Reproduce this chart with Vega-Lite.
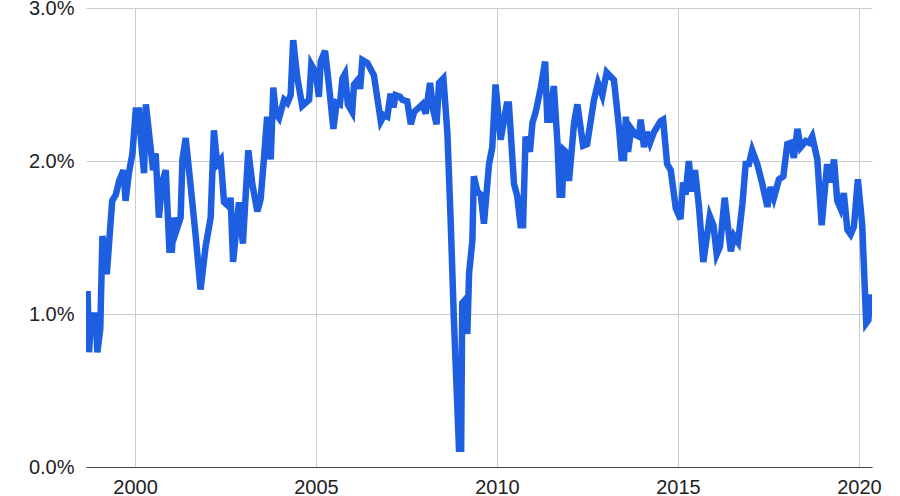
{
  "$schema": "https://vega.github.io/schema/vega-lite/v6.json",
  "width": 786,
  "height": 459,
  "autosize": "none",
  "padding": {"left": 86, "top": 8, "right": 28, "bottom": 29},
  "background": "white",
  "config": {
    "view": {"stroke": null},
    "font": "Liberation Sans"
  },
  "data": {
    "values": [
      {"year":1998.69,"rate":1.15},{"year":1998.73,"rate":0.75},{"year":1998.79,"rate":0.99},{"year":1998.91,"rate":0.99},{"year":1998.96,"rate":0.75},{"year":1999.04,"rate":0.90},{"year":1999.10,"rate":1.51},{"year":1999.22,"rate":1.26},{"year":1999.37,"rate":1.74},{"year":1999.47,"rate":1.78},{"year":1999.56,"rate":1.87},{"year":1999.68,"rate":1.94},{"year":1999.74,"rate":1.74},{"year":1999.83,"rate":1.92},{"year":1999.93,"rate":2.05},{"year":2000.02,"rate":2.33},{"year":2000.11,"rate":2.33},{"year":2000.17,"rate":2.12},{"year":2000.25,"rate":1.92},{"year":2000.30,"rate":2.37},{"year":2000.43,"rate":2.09},{"year":2000.50,"rate":1.94},{"year":2000.57,"rate":2.05},{"year":2000.66,"rate":1.63},{"year":2000.75,"rate":1.86},{"year":2000.85,"rate":1.94},{"year":2000.95,"rate":1.42},{"year":2001.02,"rate":1.42},{"year":2001.08,"rate":1.63},{"year":2001.15,"rate":1.55},{"year":2001.26,"rate":1.63},{"year":2001.31,"rate":2.01},{"year":2001.40,"rate":2.15},{"year":2001.54,"rate":1.83},{"year":2001.68,"rate":1.50},{"year":2001.81,"rate":1.16},{"year":2001.95,"rate":1.44},{"year":2002.09,"rate":1.63},{"year":2002.18,"rate":2.20},{"year":2002.27,"rate":1.98},{"year":2002.37,"rate":2.01},{"year":2002.46,"rate":1.73},{"year":2002.60,"rate":1.70},{"year":2002.64,"rate":1.76},{"year":2002.71,"rate":1.34},{"year":2002.87,"rate":1.73},{"year":2002.98,"rate":1.46},{"year":2003.13,"rate":2.07},{"year":2003.24,"rate":1.85},{"year":2003.38,"rate":1.67},{"year":2003.47,"rate":1.75},{"year":2003.56,"rate":2.01},{"year":2003.65,"rate":2.29},{"year":2003.75,"rate":2.01},{"year":2003.82,"rate":2.48},{"year":2003.89,"rate":2.31},{"year":2003.98,"rate":2.28},{"year":2004.12,"rate":2.40},{"year":2004.21,"rate":2.38},{"year":2004.30,"rate":2.43},{"year":2004.37,"rate":2.79},{"year":2004.48,"rate":2.55},{"year":2004.62,"rate":2.36},{"year":2004.81,"rate":2.40},{"year":2004.87,"rate":2.63},{"year":2004.99,"rate":2.58},{"year":2005.08,"rate":2.42},{"year":2005.13,"rate":2.65},{"year":2005.25,"rate":2.72},{"year":2005.36,"rate":2.49},{"year":2005.48,"rate":2.21},{"year":2005.57,"rate":2.38},{"year":2005.66,"rate":2.37},{"year":2005.73,"rate":2.54},{"year":2005.80,"rate":2.57},{"year":2005.88,"rate":2.37},{"year":2006.00,"rate":2.32},{"year":2006.05,"rate":2.50},{"year":2006.19,"rate":2.54},{"year":2006.22,"rate":2.47},{"year":2006.28,"rate":2.66},{"year":2006.42,"rate":2.64},{"year":2006.60,"rate":2.56},{"year":2006.79,"rate":2.26},{"year":2006.88,"rate":2.30},{"year":2006.97,"rate":2.29},{"year":2007.06,"rate":2.44},{"year":2007.14,"rate":2.35},{"year":2007.20,"rate":2.43},{"year":2007.32,"rate":2.42},{"year":2007.38,"rate":2.40},{"year":2007.52,"rate":2.39},{"year":2007.62,"rate":2.24},{"year":2007.71,"rate":2.32},{"year":2007.85,"rate":2.35},{"year":2007.94,"rate":2.37},{"year":2008.03,"rate":2.31},{"year":2008.15,"rate":2.51},{"year":2008.24,"rate":2.33},{"year":2008.33,"rate":2.24},{"year":2008.40,"rate":2.51},{"year":2008.52,"rate":2.54},{"year":2008.63,"rate":2.18},{"year":2008.72,"rate":1.61},{"year":2008.81,"rate":0.96},{"year":2008.90,"rate":0.42},{"year":2008.95,"rate":0.12},{"year":2009.01,"rate":0.12},{"year":2009.04,"rate":1.07},{"year":2009.11,"rate":1.09},{"year":2009.18,"rate":0.87},{"year":2009.23,"rate":1.27},{"year":2009.32,"rate":1.48},{"year":2009.36,"rate":1.90},{"year":2009.46,"rate":1.80},{"year":2009.55,"rate":1.78},{"year":2009.64,"rate":1.59},{"year":2009.78,"rate":1.98},{"year":2009.87,"rate":2.09},{"year":2009.96,"rate":2.50},{"year":2010.10,"rate":2.14},{"year":2010.27,"rate":2.37},{"year":2010.33,"rate":2.37},{"year":2010.47,"rate":1.85},{"year":2010.56,"rate":1.77},{"year":2010.65,"rate":1.58},{"year":2010.72,"rate":1.58},{"year":2010.79,"rate":2.16},{"year":2010.91,"rate":2.06},{"year":2010.98,"rate":2.25},{"year":2011.07,"rate":2.32},{"year":2011.21,"rate":2.48},{"year":2011.33,"rate":2.65},{"year":2011.39,"rate":2.27},{"year":2011.46,"rate":2.27},{"year":2011.57,"rate":2.49},{"year":2011.67,"rate":2.12},{"year":2011.73,"rate":1.78},{"year":2011.80,"rate":1.78},{"year":2011.85,"rate":2.07},{"year":2011.94,"rate":2.05},{"year":2011.99,"rate":1.87},{"year":2012.13,"rate":2.25},{"year":2012.22,"rate":2.37},{"year":2012.38,"rate":2.10},{"year":2012.49,"rate":2.11},{"year":2012.68,"rate":2.40},{"year":2012.79,"rate":2.51},{"year":2012.91,"rate":2.43},{"year":2013.03,"rate":2.58},{"year":2013.23,"rate":2.53},{"year":2013.37,"rate":2.22},{"year":2013.44,"rate":2.02},{"year":2013.51,"rate":2.02},{"year":2013.56,"rate":2.29},{"year":2013.62,"rate":2.06},{"year":2013.71,"rate":2.21},{"year":2013.83,"rate":2.17},{"year":2013.92,"rate":2.16},{"year":2013.97,"rate":2.27},{"year":2014.06,"rate":2.09},{"year":2014.14,"rate":2.19},{"year":2014.23,"rate":2.12},{"year":2014.34,"rate":2.19},{"year":2014.52,"rate":2.26},{"year":2014.59,"rate":2.27},{"year":2014.70,"rate":1.98},{"year":2014.80,"rate":1.94},{"year":2014.94,"rate":1.69},{"year":2015.07,"rate":1.62},{"year":2015.14,"rate":1.86},{"year":2015.21,"rate":1.78},{"year":2015.30,"rate":2.00},{"year":2015.38,"rate":1.80},{"year":2015.47,"rate":1.94},{"year":2015.58,"rate":1.70},{"year":2015.70,"rate":1.34},{"year":2015.88,"rate":1.64},{"year":2015.98,"rate":1.58},{"year":2016.07,"rate":1.39},{"year":2016.16,"rate":1.44},{"year":2016.29,"rate":1.76},{"year":2016.38,"rate":1.57},{"year":2016.46,"rate":1.41},{"year":2016.55,"rate":1.51},{"year":2016.66,"rate":1.47},{"year":2016.78,"rate":1.72},{"year":2016.87,"rate":1.98},{"year":2016.96,"rate":1.98},{"year":2017.05,"rate":2.07},{"year":2017.19,"rate":1.98},{"year":2017.33,"rate":1.85},{"year":2017.47,"rate":1.70},{"year":2017.56,"rate":1.83},{"year":2017.65,"rate":1.76},{"year":2017.79,"rate":1.88},{"year":2017.91,"rate":1.90},{"year":2018.02,"rate":2.11},{"year":2018.13,"rate":2.12},{"year":2018.20,"rate":2.02},{"year":2018.30,"rate":2.21},{"year":2018.39,"rate":2.09},{"year":2018.53,"rate":2.13},{"year":2018.62,"rate":2.12},{"year":2018.71,"rate":2.16},{"year":2018.85,"rate":2.01},{"year":2018.97,"rate":1.58},{"year":2019.12,"rate":1.98},{"year":2019.22,"rate":1.86},{"year":2019.31,"rate":2.01},{"year":2019.40,"rate":1.74},{"year":2019.49,"rate":1.69},{"year":2019.58,"rate":1.79},{"year":2019.68,"rate":1.55},{"year":2019.77,"rate":1.52},{"year":2019.86,"rate":1.57},{"year":2019.97,"rate":1.88},{"year":2020.09,"rate":1.58},{"year":2020.20,"rate":0.94},{"year":2020.26,"rate":0.96},{"year":2020.31,"rate":1.13}
    ]
  },
  "mark": {"type": "line", "color": "#1d5fe0", "strokeWidth": 6.5, "strokeJoin": "miter", "clip": true},
  "encoding": {
    "x": {
      "field": "year",
      "type": "quantitative",
      "scale": {"domain": [1998.646, 2020.36], "nice": false, "zero": false},
      "axis": {
        "title": null,
        "values": [2000, 2005, 2010, 2015, 2020],
        "format": "d",
        "grid": true,
        "gridColor": "#cccccc",
        "gridWidth": 1,
        "ticks": false,
        "domain": true,
        "domainColor": "#444444",
        "domainWidth": 1.2,
        "labelFont": "Liberation Sans",
        "labelFontSize": 20,
        "labelColor": "#222222",
        "labelPadding": 10
      }
    },
    "y": {
      "field": "rate",
      "type": "quantitative",
      "scale": {"domain": [0, 3], "nice": false},
      "axis": {
        "title": null,
        "values": [0, 1, 2, 3],
        "labelExpr": "format(datum.value, '.1f') + '%'",
        "grid": true,
        "gridColor": "#cccccc",
        "gridWidth": 1,
        "ticks": false,
        "domain": false,
        "labelFont": "Liberation Sans",
        "labelFontSize": 20,
        "labelColor": "#222222",
        "labelPadding": 12
      }
    }
  }
}
